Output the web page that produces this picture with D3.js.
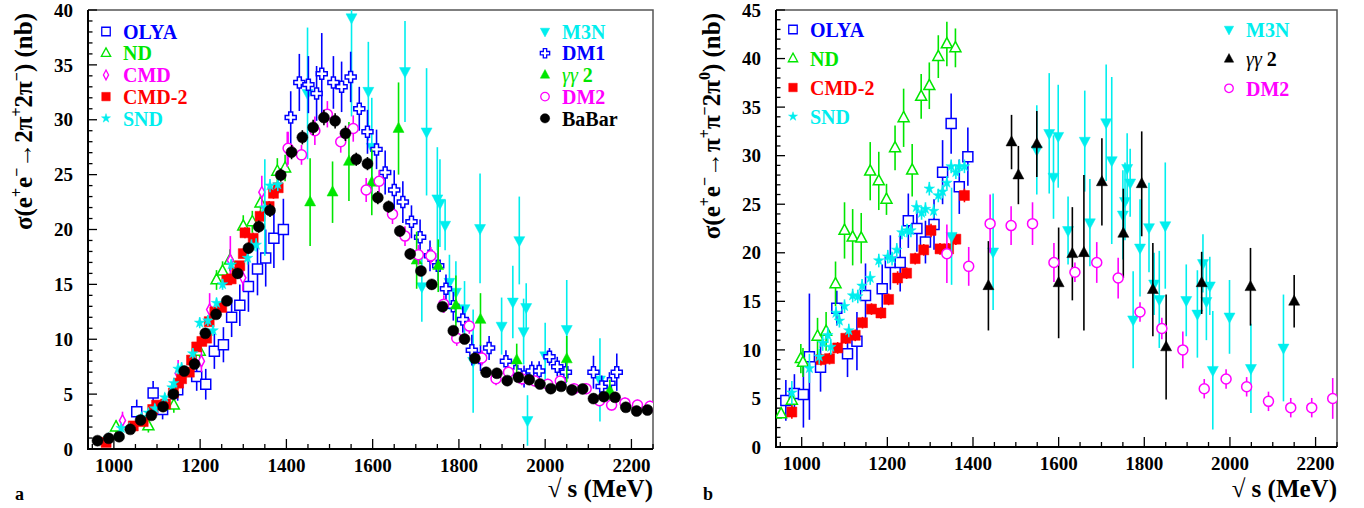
<!DOCTYPE html>
<html>
<head>
<meta charset="utf-8">
<script src="https://cdn.jsdelivr.net/npm/d3@7"></script>
<style>
  body { margin: 0; background: #fff; }
  text { font-family: "Liberation Serif", "Times New Roman", serif; font-weight: bold; }
</style>
</head>
<body>
<svg id="chart" width="1364" height="508"></svg>
<script>
// ---- data, each point: [sqrt(s) in MeV, cross-section in nb, error in nb] ----

// panel a : e+e- -> 2pi+ 2pi-
const olyaA = [[1053,3.4,1.1],[1091,5.1,1.1],[1113,3.6,0.9],[1148,5.4,1.0],[1192,6.6,1.3],[1213,5.9,1.4],[1233,8.9,1.6],[1254,9.5,1.6],[1273,12.0,1.8],[1292,13.1,1.9],[1312,14.8,2.3],[1333,16.4,2.4],[1352,17.4,2.6],[1371,19.2,2.7],[1393,20.0,2.8]];
const ndA = [[1005,2.0,0.6],[1080,2.1,0.6],[1139,4.0,0.7],[1199,8.9,0.8],[1238,15.4,0.9],[1252,16.2,0.9],[1269,17.2,1.0],[1300,20.3,1.0],[1321,20.7,1.0],[1340,22.4,1.1],[1379,25.3,1.2],[1397,25.6,1.2]];
const cmdA = [[1020,2.6,0.8],[1149,6.9,1.2],[1203,8.0,1.0],[1222,12.7,1.5],[1270,17.2,2.2],[1299,15.6,1.2],[1343,23.4,1.5],[1402,27.3,1.6]];
const cmd2A = [[982,0.6,0.3],[1045,2.1,0.3],[1068,2.5,0.3],[1090,3.6,0.3],[1099,4.0,0.3],[1120,4.1,0.3],[1138,5.1,0.3],[1150,6.0,0.3],[1157,6.4,0.3],[1175,7.0,0.3],[1180,8.1,0.3],[1192,9.3,0.3],[1204,9.8,0.3],[1215,10.1,0.3],[1221,11.6,0.4],[1234,12.5,0.4],[1250,12.9,0.4],[1262,15.4,0.4],[1272,15.5,0.4],[1285,16.1,0.4],[1292,16.7,0.4],[1300,17.8,0.4],[1304,19.7,0.5],[1323,19.2,0.5],[1339,21.2,0.5],[1360,22.1,0.5],[1370,23.3,0.5],[1381,23.8,0.5]];
const sndA = [[987,1.0,0.3],[1017,1.9,0.4],[1036,1.9,0.4],[1064,2.9,0.4],[1080,3.3,0.4],[1095,3.7,0.4],[1118,4.7,0.4],[1135,5.6,0.4],[1139,6.0,0.4],[1149,7.3,0.5],[1157,7.4,0.5],[1183,8.7,0.5],[1199,11.5,0.5],[1218,11.7,0.5],[1230,10.8,0.5],[1238,13.3,0.5],[1252,15.0,0.5],[1272,16.8,0.5],[1310,17.4,0.6],[1319,18.5,0.6],[1330,18.6,0.6],[1350,22.0,4.4],[1362,24.0,0.6],[1380,24.1,0.6]];
const m3nA = [[1449,32.4,6.0],[1551,39.3,9.0],[1590,32.6,4.5],[1598,27.5,4.5],[1675,34.4,4.6],[1714,14.8,3.2],[1725,28.9,5.8],[1750,22.8,4.7],[1756,22.4,4.0],[1768,20.4,2.3],[1778,15.2,2.5],[1793,14.3,2.8],[1813,12.8,2.5],[1833,8.0,4.7],[1849,20.1,5.0],[1899,11.2,2.6],[1925,13.4,3.3],[1940,19.0,4.0],[1950,10.7,3.0],[1956,12.9,2.2],[1959,2.6,2.3],[2000,8.5,3.0],[2050,10.9,4.5],[2127,6.3,3.8]];
const dm1A = [[1410,30.2,2.4],[1430,33.4,2.6],[1451,33.2,2.6],[1470,32.4,2.5],[1482,34.2,3.7],[1509,33.4,2.4],[1528,33.0,2.3],[1549,33.9,2.3],[1569,31.0,2.0],[1588,28.9,2.0],[1609,27.3,1.8],[1629,25.2,2.0],[1650,23.6,1.8],[1670,22.5,1.9],[1690,20.7,1.5],[1710,19.3,1.6],[1733,17.6,1.4],[1752,16.7,1.4],[1770,14.6,1.3],[1787,13.0,1.3],[1809,11.8,1.2],[1830,9.0,1.4],[1850,8.3,1.2],[1870,9.2,1.1],[1909,8.0,1.0],[1932,7.1,1.0],[1951,6.6,1.0],[1969,7.1,0.9],[1986,7.1,0.9],[2010,8.4,0.8],[2028,7.5,0.9],[2048,7.0,1.0],[2112,7.0,1.5],[2131,5.7,1.0],[2149,6.0,1.0],[2166,7.0,1.7]];
const gg2A = [[1455,22.5,4.0],[1507,23.4,2.8],[1545,26.2,3.6],[1598,24.3,3.0],[1660,29.2,4.2],[1702,17.2,2.6],[1752,16.7,2.4],[1793,13.1,2.7],[1850,11.8,2.4],[1934,8.1,1.5],[2050,8.2,2.1],[2150,5.3,1.0]];
const dm2A = [[1404,27.4,1.5],[1435,26.8,0.9],[1466,29.0,1.3],[1495,30.5,1.2],[1526,28.0,1.0],[1555,29.2,1.2],[1585,23.6,1.1],[1615,24.4,1.0],[1646,21.4,0.9],[1675,19.4,0.9],[1706,17.7,0.9],[1735,17.6,0.8],[1765,13.2,0.8],[1795,10.1,0.7],[1824,11.2,0.7],[1853,8.3,0.7],[1886,6.4,0.6],[1915,7.0,0.6],[1946,6.4,0.6],[1976,6.2,0.5],[2006,5.9,0.5],[2035,6.2,0.5],[2067,5.5,0.5],[2095,5.5,0.5],[2126,4.4,0.5],[2154,4.0,0.5],[2185,4.2,0.5],[2214,4.0,0.5],[2243,3.9,0.5]];
const babarA = [[962,0.76,0.1],[988,0.97,0.1],[1012,1.12,0.15],[1038,1.79,0.15],[1062,2.64,0.2],[1087,3.07,0.2],[1114,3.86,0.2],[1138,5.0,0.25],[1163,7.1,0.3],[1187,7.74,0.3],[1212,10.54,0.35],[1237,12.27,0.4],[1262,13.5,0.4],[1287,16.0,0.45],[1312,18.3,0.5],[1336,20.26,0.55],[1362,21.74,0.6],[1387,24.96,0.6],[1412,27.05,0.65],[1437,28.4,0.65],[1462,29.3,0.7],[1487,30.2,0.7],[1513,29.9,0.7],[1537,28.76,0.7],[1562,26.4,0.6],[1588,26.0,0.6],[1612,22.9,0.6],[1637,22.08,0.55],[1663,19.86,0.5],[1687,17.77,0.5],[1712,16.22,0.45],[1737,15.0,0.45],[1762,12.97,0.4],[1787,10.78,0.35],[1813,10.02,0.35],[1837,8.26,0.3],[1863,6.99,0.3],[1888,6.9,0.3],[1912,6.23,0.3],[1938,6.53,0.3],[1963,6.32,0.3],[1988,5.92,0.3],[2013,5.5,0.25],[2037,5.71,0.25],[2062,5.38,0.25],[2087,5.47,0.25],[2112,4.59,0.25],[2136,4.77,0.25],[2162,4.71,0.25],[2187,3.8,0.2],[2212,3.46,0.2],[2237,3.55,0.2]];

// panel b : e+e- -> pi+ pi- 2pi0
const olyaB = [[963,4.8,2.1],[983,5.5,2.0],[1004,5.4,3.4],[1018,9.3,6.5],[1044,8.2,2.5],[1082,14.3,1.8],[1107,9.6,2.4],[1129,10.9,3.0],[1149,15.6,3.3],[1188,16.3,2.5],[1207,19.0,2.8],[1230,19.0,3.0],[1249,23.3,2.8],[1269,22.5,2.4],[1289,21.1,2.2],[1309,22.9,2.6],[1329,28.3,3.3],[1349,33.3,3.1],[1368,26.8,2.8],[1388,29.9,3.0]];
const ndB = [[952,3.4,0.5],[977,4.8,1.0],[998,9.1,1.5],[1003,8.7,1.5],[1037,11.4,1.9],[1057,11.9,2.0],[1079,16.8,2.3],[1100,22.3,2.9],[1119,21.6,2.9],[1139,21.5,2.6],[1160,28.4,3.0],[1180,27.4,3.0],[1198,25.5,1.6],[1218,30.8,2.3],[1238,33.9,3.0],[1258,28.5,2.7],[1279,36.1,2.3],[1298,37.2,2.4],[1319,40.2,2.2],[1339,41.5,2.3],[1359,41.1,2.0]];
const cmd2B = [[977,3.6,0.7],[1045,9.0,0.6],[1065,9.1,0.6],[1084,10.2,0.6],[1103,11.2,0.6],[1125,11.5,0.6],[1142,12.8,0.6],[1163,14.2,0.6],[1185,13.8,0.6],[1203,15.2,0.6],[1224,17.4,0.7],[1245,17.9,0.6],[1265,19.4,0.6],[1285,20.3,0.6],[1302,22.3,0.7],[1323,20.4,0.6],[1343,20.4,0.6],[1360,21.4,0.6],[1380,25.9,0.7]];
const sndB = [[977,5.6,1.2],[1018,8.1,1.5],[1041,9.3,0.8],[1049,10.7,0.8],[1061,11.5,0.8],[1068,10.3,0.8],[1080,13.8,0.7],[1088,13.0,0.7],[1100,14.5,0.7],[1110,12.0,0.7],[1119,15.6,0.7],[1131,15.5,0.7],[1141,16.6,0.7],[1160,17.4,0.7],[1180,19.2,0.7],[1201,19.6,0.7],[1211,19.4,0.7],[1222,20.3,0.7],[1234,22.1,0.7],[1246,22.3,0.7],[1255,22.3,0.7],[1268,24.7,0.7],[1280,24.1,0.7],[1289,24.5,0.7],[1298,26.6,0.7],[1308,24.3,0.7],[1319,25.9,0.7],[1329,26.3,0.7],[1339,27.2,0.7],[1349,28.9,0.7],[1360,28.3,0.7],[1368,28.9,0.7],[1380,28.9,0.7]];
const m3nB = [[1350,21.7,5.0],[1447,20.1,6.0],[1549,30.6,4.6],[1578,32.3,6.2],[1588,27.8,4.3],[1599,32.0,5.3],[1622,22.3,3.5],[1661,31.5,5.2],[1673,23.1,4.5],[1711,33.4,6.0],[1724,29.5,8.6],[1750,23.9,4.6],[1755,25.3,4.0],[1760,28.7,3.6],[1767,27.2,3.5],[1774,13.1,5.0],[1790,20.5,5.0],[1811,22.6,4.6],[1823,16.8,3.2],[1835,15.2,5.0],[1849,22.8,6.5],[1898,15.1,3.7],[1924,13.7,4.5],[1937,18.9,3.0],[1945,15.0,4.0],[1953,16.6,3.0],[1960,7.9,6.1],[1999,13.4,3.8],[2049,8.1,4.6],[2125,10.2,5.5]];
const gg2B = [[1436,16.6,4.6],[1490,31.4,2.8],[1506,28.0,3.0],[1549,31.2,3.4],[1600,16.9,5.7],[1632,19.9,4.8],[1659,20.0,8.0],[1701,27.3,4.5],[1751,22.0,4.6],[1794,27.1,5.4],[1820,16.2,4.8],[1851,10.3,5.4],[1934,16.9,3.2],[2048,16.5,4.0],[2150,15.0,2.7]];
const dm2B = [[1339,19.9,3.0],[1390,18.6,2.0],[1440,23.0,3.0],[1489,22.8,2.0],[1539,23.0,2.2],[1589,19.0,2.0],[1638,18.0,1.0],[1689,19.0,2.1],[1739,17.4,2.1],[1790,13.9,1.0],[1841,12.2,1.1],[1890,10.0,1.9],[1940,6.0,1.0],[1991,7.0,1.0],[2039,6.2,1.0],[2090,4.7,1.0],[2142,4.05,1.0],[2191,4.05,1.0],[2240,5.0,2.1]];

// axis ticks
const xDomain = [940, 2250];
const xMajorTicks = [1000, 1200, 1400, 1600, 1800, 2000, 2200];
const yMajorA = [0, 5, 10, 15, 20, 25, 30, 35, 40];
const yMajorB = [0, 5, 10, 15, 20, 25, 30, 35, 40, 45];

const BLUE = "#0000ff", GREEN = "#00e600", MAGENTA = "#ff00ff", RED = "#ff0000", CYAN = "#00eeee", BLACK = "#000000";

// marker shapes, r = half size
function markerPath(shape, r) {
    if (shape == "square") return `M${-r},${-r}H${r}V${r}H${-r}Z`;
    if (shape == "tri") return `M0,${-r * 1.15}L${r},${r * 0.7}L${-r},${r * 0.7}Z`;
    if (shape == "tridown") return `M0,${r * 1.15}L${r},${-r * 0.7}L${-r},${-r * 0.7}Z`;
    if (shape == "diamond") return `M0,${-r * 1.5}L${r * 0.8},0L0,${r * 1.5}L${-r * 0.8},0Z`;
    if (shape == "cross") {
        var a = r * 0.36;
        return `M${-a},${-r}H${a}V${-a}H${r}V${a}H${a}V${r}H${-a}V${a}H${-r}V${-a}H${-a}Z`;
    }
    if (shape == "circle") return `M${r},0A${r},${r} 0 1 1 ${-r},0A${r},${r} 0 1 1 ${r},0Z`;
    if (shape == "star") return d3.symbol(d3.symbolStar, r * r * 1.15)();
    return "";
}

const svg = d3.select("#chart");

function drawPanel(p) {
    var x = d3.scaleLinear().domain(xDomain).range([p.left, p.right]);
    var y = d3.scaleLinear().domain([0, p.yMax]).range([p.bottom, p.top]);
    var g = svg.append("g");

    g.append("clipPath").attr("id", p.id + "clip")
        .append("rect")
        .attr("x", p.left).attr("y", p.top)
        .attr("width", p.right - p.left).attr("height", p.bottom - p.top);

    // frame: top and right in grey
    g.append("path")
        .attr("d", `M${p.left},${p.top}H${p.right}V${p.bottom}`)
        .attr("fill", "none").attr("stroke", "#555").attr("stroke-width", 1.5);

    // x ticks
    var xMinor = d3.range(950, 2251, 50);
    g.selectAll(".xt").data(xMinor).enter().append("line")
        .attr("x1", d => x(d)).attr("x2", d => x(d))
        .attr("y1", p.bottom).attr("y2", d => p.bottom - (d % 200 == 0 ? 10 : 5))
        .attr("stroke", "#000").attr("stroke-width", 1.3);
    g.selectAll(".xl").data(xMajorTicks).enter().append("text")
        .attr("x", d => x(d)).attr("y", p.bottom + 23)
        .attr("text-anchor", "middle").style("font-size", "19px")
        .text(d => d);

    // y ticks
    var yMinor = d3.range(0, p.yMax + 0.5, 1);
    g.selectAll(".yt").data(yMinor).enter().append("line")
        .attr("x1", p.left).attr("x2", d => p.left + (d % 5 == 0 ? 9 : 4.5))
        .attr("y1", d => y(d)).attr("y2", d => y(d))
        .attr("stroke", "#000").attr("stroke-width", 1.3);
    g.selectAll(".yl").data(p.yTicks).enter().append("text")
        .attr("x", p.left - 15).attr("y", d => y(d))
        .attr("dy", "0.35em")
        .attr("text-anchor", "end").style("font-size", "19px")
        .text(d => d);

    // axis lines
    g.append("path")
        .attr("d", `M${p.left},${p.top}V${p.bottom}H${p.right}`)
        .attr("fill", "none").attr("stroke", "#000").attr("stroke-width", 2);

    // data
    var plot = g.append("g").attr("clip-path", `url(#${p.id}clip)`);
    p.series.forEach(function (s) {
        var sg = plot.append("g");
        sg.selectAll("line").data(s.data).enter().append("line")
            .attr("x1", d => x(d[0])).attr("x2", d => x(d[0]))
            .attr("y1", d => y(d[1] - d[2])).attr("y2", d => y(d[1] + d[2]))
            .attr("stroke", s.color).attr("stroke-width", 1.6);
        sg.selectAll("path").data(s.data).enter().append("path")
            .attr("d", markerPath(s.shape, s.r))
            .attr("transform", d => `translate(${x(d[0])},${y(d[1])})`)
            .attr("fill", s.filled ? s.color : "#fff")
            .attr("stroke", s.color)
            .attr("stroke-width", s.filled ? 0.5 : 1.5);
    });

    // legends
    p.legends.forEach(function (lg) {
        lg.items.forEach(function (s, i) {
            var yy = lg.y + i * lg.step;
            g.append("path")
                .attr("d", markerPath(s.shape, s.r * 0.85))
                .attr("transform", `translate(${lg.x},${yy})`)
                .attr("fill", s.filled ? s.color : "#fff")
                .attr("stroke", s.color).attr("stroke-width", s.filled ? 0.5 : 1.3);
            var t = g.append("text")
                .attr("x", lg.x + 17).attr("y", yy).attr("dy", "0.36em")
                .style("font-size", "20px").attr("fill", s.color);
            if (s.name == "γγ 2") {
                t.append("tspan").style("font-style", "italic").style("font-weight", "normal").text("γγ");
                t.append("tspan").text(" 2");
            } else {
                t.text(s.name);
            }
        });
    });

    // y title, aligned to the top of the axis
    var yt = g.append("text")
        .attr("transform", `translate(${p.left - 56},${p.top + 3}) rotate(-90)`)
        .attr("text-anchor", "end").style("font-size", "25px");
    p.yTitle.forEach(function (part) {
        if (part[1] == "sup") {
            yt.append("tspan").attr("dy", -10).style("font-size", "16px").text(part[0]);
        } else if (part[1] == "back") {
            yt.append("tspan").attr("dy", 10).text(part[0]);
        } else {
            yt.append("tspan").text(part[0]);
        }
    });

    // x title
    g.append("text")
        .attr("x", p.right).attr("y", 497)
        .attr("text-anchor", "end").style("font-size", "25px")
        .text("√ s (MeV)");

    g.append("text")
        .attr("x", p.left - 73).attr("y", 500)
        .style("font-size", "18px")
        .text(p.id);
}

var sOlya = { name: "OLYA", shape: "square", r: 5, color: BLUE };
var sNd = { name: "ND", shape: "tri", r: 5.5, color: GREEN };
var sCmd = { name: "CMD", shape: "diamond", r: 3.8, color: MAGENTA };
var sCmd2 = { name: "CMD-2", shape: "square", r: 5, filled: true, color: RED };
var sSnd = { name: "SND", shape: "star", r: 5.5, filled: true, color: CYAN };
var sM3n = { name: "M3N", shape: "tridown", r: 5.5, filled: true, color: CYAN };
var sDm1 = { name: "DM1", shape: "cross", r: 5.5, color: BLUE };
var sGg2 = { name: "γγ 2", shape: "tri", r: 5.5, filled: true, color: GREEN };
var sDm2 = { name: "DM2", shape: "circle", r: 5, color: MAGENTA };
var sBabar = { name: "BaBar", shape: "circle", r: 5.5, filled: true, color: BLACK };
var sGg2b = Object.assign({}, sGg2, { color: BLACK });

function withData(s, data) { return Object.assign({}, s, { data: data }); }

drawPanel({
    id: "a", left: 88, right: 653, top: 10, bottom: 449, yMax: 40, yTicks: yMajorA,
    series: [withData(sOlya, olyaA), withData(sNd, ndA), withData(sCmd, cmdA), withData(sCmd2, cmd2A),
        withData(sSnd, sndA), withData(sM3n, m3nA), withData(sDm1, dm1A), withData(sGg2, gg2A),
        withData(sDm2, dm2A), withData(sBabar, babarA)],
    legends: [
        { x: 106, y: 31.5, step: 21.7, items: [sOlya, sNd, sCmd, sCmd2, sSnd] },
        { x: 545, y: 31.5, step: 21.7, items: [sM3n, sDm1, sGg2, sDm2, sBabar] }
    ],
    yTitle: [["σ(e"], ["+", "sup"], ["e", "back"], ["−", "sup"], ["→2π", "back"], ["+", "sup"], ["2π", "back"], ["−", "sup"], [") (nb)", "back"]]
});

drawPanel({
    id: "b", left: 776, right: 1337, top: 10, bottom: 447, yMax: 45, yTicks: yMajorB,
    series: [withData(sOlya, olyaB), withData(sNd, ndB), withData(sCmd2, cmd2B), withData(sSnd, sndB),
        withData(sM3n, m3nB), withData(sGg2b, gg2B), withData(sDm2, dm2B)],
    legends: [
        { x: 793, y: 29.5, step: 29, items: [sOlya, sNd, sCmd2, sSnd] },
        { x: 1229, y: 29.5, step: 29.4, items: [sM3n, sGg2b, sDm2] }
    ],
    yTitle: [["σ(e"], ["+", "sup"], ["e", "back"], ["−", "sup"], ["→π", "back"], ["+", "sup"], ["π", "back"], ["−", "sup"], ["2π", "back"], ["0", "sup"], [") (nb)", "back"]]
});
</script>
</body>
</html>
